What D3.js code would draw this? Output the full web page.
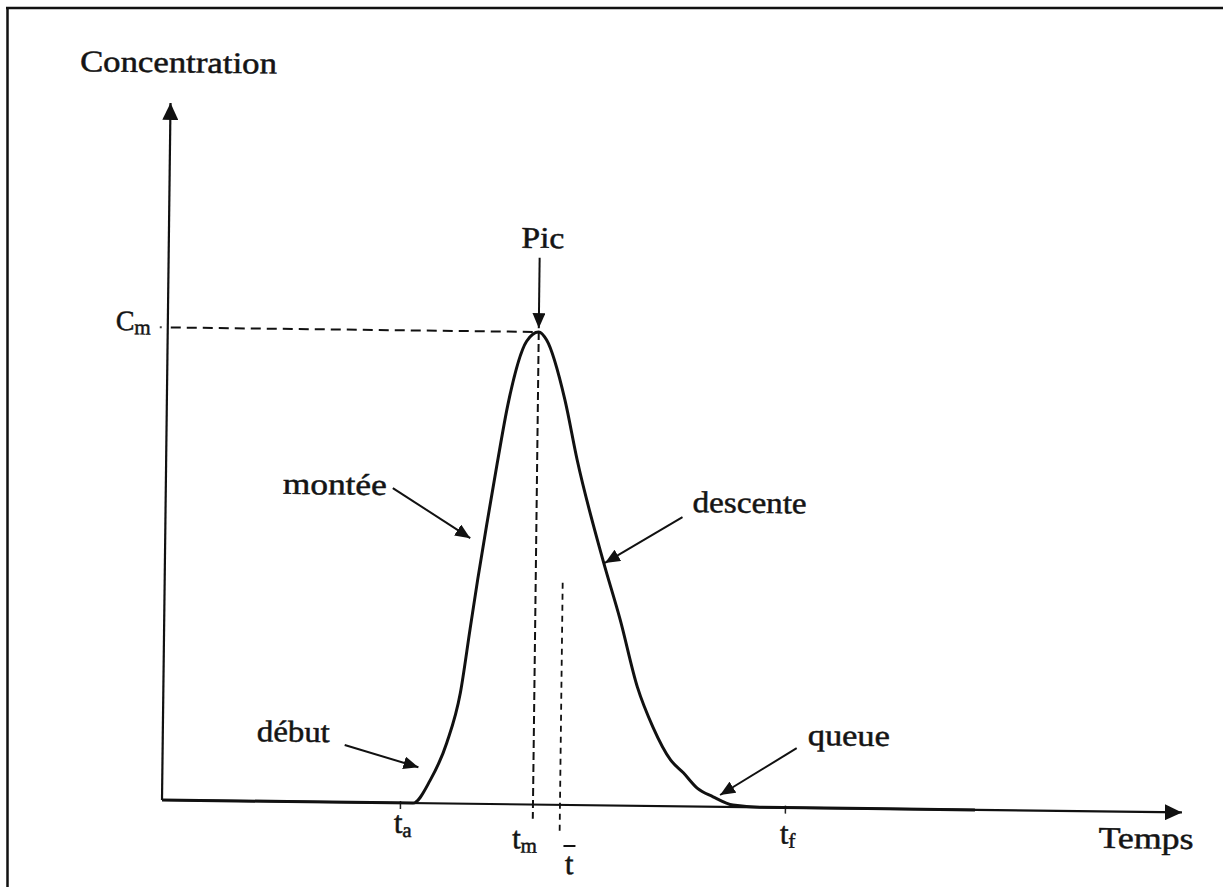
<!DOCTYPE html>
<html>
<head>
<meta charset="utf-8">
<script src="https://cdn.jsdelivr.net/npm/d3@7"></script>
<style>
  html, body { margin: 0; padding: 0; background: #fff; }
  svg { display: block; }
  text { font-family: "Liberation Serif", "Times New Roman", serif; fill: #141414; stroke: #141414; stroke-width: 0.5px; }
</style>
</head>
<body>
<svg id="chart" width="1223" height="887"></svg>
<script>
// ---------------- data ----------------
// concentration curve (time in arbitrary units, concentration in % of Cm)
const curveTime = [0, 25.1, 26.8, 28.4, 29.7, 30.6, 31.3, 32.2, 33.1, 34.1, 35.9, 37.1, 37.9, 39.8, 41.1, 43.8, 45.6, 47.4, 49.0, 50.8, 52.1, 53.5, 55.1, 57.1, 59.8, 81.3];
const curveConc = [0, 0, 4.9, 12.8, 23.4, 37.0, 47.5, 60.0, 72.0, 84.5, 98.0, 100, 98.3, 85.7, 73.0, 51.9, 39.3, 25.1, 16.7, 9.8, 7.1, 3.9, 2.1, 0.4, 0, 0];

// characteristic times
const tickValues = [23.8, 37.1, 39.8, 62.3];      // ta, tm, t-bar, tf
const tickSubs   = ["a", "m", "", "f"];
const tickBar    = [false, false, true, false];
const Cm = 100;

// annotations (anchored in data coordinates)
const annLabels    = ["Pic", "montée", "début", "descente", "queue"];
const annTextT     = [37.4, 22.1, 16.7, 52.7, 64.5];
const annTextC     = [117.8, 65.1, 12.7, 62.3, 13.3];
const annFromT     = [37.1, 22.7, 18.2, 51.7, 63.4];
const annFromC     = [115.7, 66.6, 12.1, 61.2, 12.6];
const annToT       = [37.1, 30.5, 25.6, 44.0, 55.8];
const annToC       = [100.8, 56.2, 7.6, 51.3, 2.5];

// axis titles
const yTitle = "Concentration";
const xTitle = "Temps";

// ---------------- layout / style ----------------
const W = 1223, H = 887;
const origin = [162, 800];
const tilt = 0.7; // scanned page is slightly rotated
const annAnchor = ["middle", "end", "end", "start", "start"];
const annWidth  = [43, 104, 73, 114, 82];
const tickLabelDx = [3, -8, 10, 3];
const tickLabelDy = [30, 44, 69, 36];

const svg = d3.select("#chart");
svg.append("rect").attr("width", W).attr("height", H).attr("fill", "#fff");

// page frame (top & left edges of the scan)
svg.append("line").attr("x1", 6).attr("y1", 8).attr("x2", W).attr("y2", 8)
  .attr("stroke", "#111").attr("stroke-width", 2.5);
svg.append("line").attr("x1", 7.5).attr("y1", 7).attr("x2", 7.5).attr("y2", H)
  .attr("stroke", "#111").attr("stroke-width", 2.5);

const defs = svg.append("defs");
defs.append("marker").attr("id", "headBig")
  .attr("viewBox", "0 -8 17 16").attr("refX", 17).attr("refY", 0)
  .attr("markerWidth", 17).attr("markerHeight", 16)
  .attr("markerUnits", "userSpaceOnUse").attr("orient", "auto")
  .append("path").attr("d", "M0,-8L17,0L0,8Z").attr("fill", "#111");
defs.append("marker").attr("id", "headSmall")
  .attr("viewBox", "0 -6.5 15 13").attr("refX", 15).attr("refY", 0)
  .attr("markerWidth", 15).attr("markerHeight", 13)
  .attr("markerUnits", "userSpaceOnUse").attr("orient", "auto")
  .append("path").attr("d", "M0,-6.5L15,0L0,6.5Z").attr("fill", "#111");

const g = svg.append("g")
  .attr("transform", `translate(${origin[0]},${origin[1]}) rotate(${tilt})`);

const x = d3.scaleLinear().domain([0, 100]).range([0, 1000]);
const y = d3.scaleLinear().domain([0, 100]).range([0, -472.6]);

// axes with arrows
g.append("line").attr("x1", x(0)).attr("y1", y(0)).attr("x2", x(102)).attr("y2", y(0))
  .attr("stroke", "#111").attr("stroke-width", 2.2).attr("marker-end", "url(#headBig)");
g.append("line").attr("x1", x(0)).attr("y1", y(0)).attr("x2", x(0)).attr("y2", y(147.5))
  .attr("stroke", "#111").attr("stroke-width", 2.2).attr("marker-end", "url(#headBig)");

// tick marks at ta and tf
const xAxis = d3.axisBottom(x).tickValues([tickValues[0], tickValues[3]]).tickSize(6).tickFormat("");
const ax = g.append("g").call(xAxis);
ax.select(".domain").remove();
ax.selectAll(".tick line").attr("y1", -2).attr("stroke", "#222").attr("stroke-width", 1.5);

// small mark at Cm on y axis
g.append("line").attr("x1", -8).attr("x2", -6).attr("y1", y(Cm)).attr("y2", y(Cm))
  .attr("stroke", "#444").attr("stroke-width", 2);

// dashed guides
g.append("line").attr("x1", x(0) + 3).attr("y1", y(Cm)).attr("x2", x(tickValues[1])).attr("y2", y(Cm))
  .attr("stroke", "#111").attr("stroke-width", 2).attr("stroke-dasharray", "10 6");
g.append("line").attr("x1", x(tickValues[1])).attr("y1", y(Cm)).attr("x2", x(tickValues[1])).attr("y2", y(-3))
  .attr("stroke", "#111").attr("stroke-width", 2).attr("stroke-dasharray", "8 4");
g.append("line").attr("x1", x(tickValues[2])).attr("y1", y(47)).attr("x2", x(tickValues[2])).attr("y2", y(-6))
  .attr("stroke", "#111").attr("stroke-width", 1.8).attr("stroke-dasharray", "6 5");

// concentration curve
const pts = curveTime.map((t, i) => ({ t, c: curveConc[i] }));
const line = d3.line().x(d => x(d.t)).y(d => y(d.c)).curve(d3.curveMonotoneX);
g.append("path").datum(pts).attr("d", line)
  .attr("fill", "none").attr("stroke", "#111").attr("stroke-width", 3)
  .attr("stroke-linejoin", "round");

// annotation arrows + labels
annLabels.forEach((lab, i) => {
  g.append("line")
    .attr("x1", x(annFromT[i])).attr("y1", y(annFromC[i]))
    .attr("x2", x(annToT[i])).attr("y2", y(annToC[i]))
    .attr("stroke", "#111").attr("stroke-width", 2).attr("marker-end", "url(#headSmall)");
  g.append("text")
    .attr("x", x(annTextT[i])).attr("y", y(annTextC[i]))
    .attr("text-anchor", annAnchor[i])
    .attr("font-size", 30)
    .attr("textLength", annWidth[i]).attr("lengthAdjust", "spacingAndGlyphs")
    .text(lab);
});

// axis titles
g.append("text").attr("x", x(-9.1)).attr("y", y(154)).attr("font-size", 30)
  .attr("textLength", 197).attr("lengthAdjust", "spacingAndGlyphs").text(yTitle);
g.append("text").attr("x", x(93.7)).attr("y", y(-7.7)).attr("font-size", 30)
  .attr("textLength", 95).attr("lengthAdjust", "spacingAndGlyphs").text(xTitle);

// Cm label
const cmLab = g.append("text").attr("x", x(-1.7)).attr("y", y(99.3))
  .attr("text-anchor", "end").attr("font-size", 28);
cmLab.append("tspan").text("C");
cmLab.append("tspan").attr("font-size", 21).attr("dy", 4).text("m");

// time tick labels
tickValues.forEach((tv, i) => {
  const tx = x(tv) + tickLabelDx[i];
  const t = g.append("text").attr("x", tx).attr("y", tickLabelDy[i])
    .attr("text-anchor", "middle").attr("font-size", 31);
  t.append("tspan").text("t");
  if (tickSubs[i]) t.append("tspan").attr("font-size", 21).attr("dy", 4).text(tickSubs[i]);
  if (tickBar[i]) {
    g.append("line").attr("x1", tx - 6).attr("x2", tx + 6)
      .attr("y1", tickLabelDy[i] - 28).attr("y2", tickLabelDy[i] - 28)
      .attr("stroke", "#111").attr("stroke-width", 2);
  }
});
</script>
</body>
</html>
